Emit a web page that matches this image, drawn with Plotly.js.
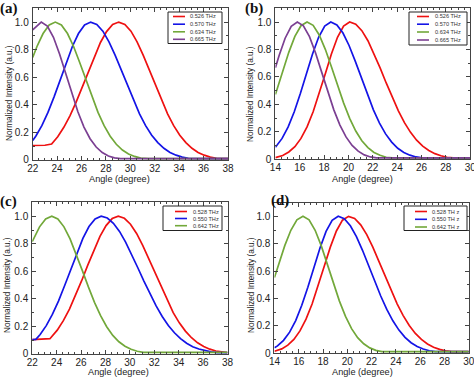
<!DOCTYPE html>
<html>
<head>
<meta charset="utf-8">
<script src="https://cdn.plot.ly/plotly-3.0.1.min.js"></script>
<style>html,body{margin:0;padding:0;background:#fff;}#chart{width:474px;height:377px;}</style>
</head>
<body>
<div id="chart"></div>
<script>
// ---------- Panel (a) ----------
const labelsA = ['0.526 THz', '0.570 THz', '0.634 THz', '0.665 THz'];
const angA_red = [22, 23.0, 23.55, 24.05, 24.55, 25.05, 25.55, 26.05, 26.55, 27.05, 27.55, 28.05, 28.55, 29.05, 29.55, 30.05, 30.55, 31.05, 31.55, 32.05, 32.55, 33.05, 33.55, 34.05, 34.55, 35.05, 35.55, 36.05, 36.55, 37.05, 38];
const intA_red = [0.105, 0.107, 0.116, 0.169, 0.237, 0.320, 0.418, 0.527, 0.641, 0.752, 0.852, 0.931, 0.982, 1, 0.983, 0.934, 0.857, 0.760, 0.651, 0.539, 0.432, 0.334, 0.249, 0.180, 0.126, 0.085, 0.055, 0.035, 0.021, 0.012, 0.01];
const angA_blue = [22, 22.25, 22.75, 23.25, 23.75, 24.25, 24.75, 25.25, 25.75, 26.25, 26.75, 27.25, 27.75, 28.25, 28.75, 29.25, 29.75, 30.25, 30.75, 31.25, 31.75, 32.25, 32.75, 33.25, 33.75, 34.25, 34.75, 35.5, 38];
const intA_blue = [0.141, 0.172, 0.249, 0.345, 0.458, 0.581, 0.707, 0.823, 0.917, 0.979, 1, 0.983, 0.934, 0.857, 0.760, 0.651, 0.539, 0.432, 0.334, 0.249, 0.180, 0.126, 0.085, 0.055, 0.035, 0.021, 0.012, 0.01, 0.01];
const angA_green = [22, 22.35, 22.85, 23.35, 23.85, 24.35, 24.85, 25.35, 25.85, 26.35, 26.85, 27.35, 27.85, 28.35, 28.85, 29.35, 29.85, 30.35, 30.85, 31.5, 38];
const intA_green = [0.743, 0.823, 0.917, 0.979, 1, 0.979, 0.917, 0.823, 0.707, 0.581, 0.458, 0.345, 0.249, 0.172, 0.114, 0.072, 0.044, 0.026, 0.014, 0.01, 0.01];
const angA_purple = [22, 22.7, 23.2, 23.7, 24.2, 24.7, 25.2, 25.7, 26.2, 26.7, 27.2, 27.7, 28.2, 28.7, 29.2, 38];
const intA_purple = [0.944, 1, 0.971, 0.890, 0.769, 0.627, 0.482, 0.350, 0.239, 0.154, 0.094, 0.054, 0.029, 0.015, 0.01, 0.01];

// ---------- Panel (b) ----------
const labelsB = ['0.526 THz', '0.570 THz', '0.634 THz', '0.665 THz'];
const angB_red = [14, 14.6, 15.1, 15.6, 16.1, 16.6, 17.1, 17.6, 18.1, 18.6, 19.1, 19.6, 20.1, 20.6, 21.1, 21.6, 22.1, 22.6, 23.1, 23.6, 24.1, 24.6, 25.1, 25.6, 26.1, 26.6, 27.1, 27.6, 28.1, 28.6, 30];
const intB_red = [0.012, 0.028, 0.053, 0.092, 0.152, 0.236, 0.346, 0.479, 0.624, 0.767, 0.889, 0.971, 1, 0.984, 0.937, 0.864, 0.771, 0.666, 0.556, 0.450, 0.353, 0.267, 0.196, 0.139, 0.096, 0.064, 0.041, 0.026, 0.015, 0.01, 0.01];
const angB_blue = [14, 14.55, 15.05, 15.55, 16.05, 16.55, 17.05, 17.55, 18.05, 18.55, 19.05, 19.55, 20.05, 20.55, 21.05, 21.55, 22.05, 22.55, 23.05, 23.55, 24.05, 24.55, 25.05, 25.55, 26.05, 30];
const intB_blue = [0.087, 0.152, 0.236, 0.346, 0.479, 0.624, 0.767, 0.889, 0.971, 1, 0.979, 0.920, 0.829, 0.717, 0.594, 0.472, 0.360, 0.264, 0.185, 0.125, 0.080, 0.050, 0.030, 0.017, 0.01, 0.01];
const angB_green = [14, 14.1, 14.6, 15.1, 15.6, 16.1, 16.6, 17.1, 17.6, 18.1, 18.6, 19.1, 19.6, 20.1, 20.6, 21.1, 21.6, 22.1, 22.6, 23.1, 23.6, 30];
const intB_green = [0.472, 0.499, 0.641, 0.779, 0.895, 0.973, 1, 0.976, 0.906, 0.801, 0.674, 0.540, 0.411, 0.298, 0.206, 0.135, 0.085, 0.050, 0.029, 0.015, 0.01, 0.01];
const angB_purple = [14, 14.3, 14.8, 15.3, 15.8, 16.3, 16.8, 17.3, 17.8, 18.3, 18.8, 19.3, 19.8, 20.3, 20.8, 21.3, 21.8, 22.3, 30];
const intB_purple = [0.667, 0.755, 0.882, 0.969, 1, 0.972, 0.893, 0.775, 0.635, 0.492, 0.360, 0.249, 0.163, 0.101, 0.059, 0.032, 0.017, 0.01, 0.01];

// ---------- Panel (c) ----------
const labelsC = ['0.528 THz', '0.550 THz', '0.642 THz'];
const angC_red = [22, 23.0, 23.45, 24.05, 24.55, 25.05, 25.55, 26.05, 26.55, 27.05, 27.55, 28.05, 28.55, 29.05, 29.55, 30.05, 30.55, 31.05, 31.55, 32.05, 32.55, 33.05, 33.55, 34.05, 34.55, 35.05, 35.55, 36.05, 36.55, 37.05, 37.55, 38];
const intC_red = [0.105, 0.106, 0.111, 0.173, 0.242, 0.326, 0.424, 0.532, 0.645, 0.755, 0.854, 0.932, 0.983, 1, 0.985, 0.942, 0.875, 0.788, 0.690, 0.586, 0.483, 0.386, 0.300, 0.226, 0.166, 0.118, 0.081, 0.054, 0.035, 0.022, 0.014, 0.01];
const angC_blue = [22, 22.3, 22.65, 23.15, 23.65, 24.15, 24.65, 25.15, 25.65, 26.15, 26.65, 27.15, 27.65, 28.15, 28.65, 29.15, 29.65, 30.15, 30.65, 31.15, 31.65, 32.15, 32.65, 33.15, 33.65, 34.15, 34.65, 35.15, 35.65, 36.15, 36.65, 37.2, 38];
const intC_blue = [0.105, 0.106, 0.142, 0.206, 0.287, 0.384, 0.495, 0.614, 0.732, 0.839, 0.925, 0.981, 1, 0.987, 0.949, 0.890, 0.812, 0.722, 0.626, 0.529, 0.435, 0.349, 0.272, 0.207, 0.154, 0.111, 0.078, 0.053, 0.036, 0.023, 0.015, 0.01, 0.01];
const angC_green = [22, 22.1, 22.6, 23.1, 23.6, 24.1, 24.6, 25.1, 25.6, 26.1, 26.6, 27.1, 27.6, 28.1, 28.6, 29.1, 29.6, 30.1, 30.6, 31.1, 38];
const intC_green = [0.815, 0.835, 0.923, 0.980, 1, 0.980, 0.923, 0.835, 0.726, 0.607, 0.487, 0.375, 0.278, 0.198, 0.135, 0.089, 0.056, 0.034, 0.020, 0.012, 0.012];

// ---------- Panel (d) ----------
const labelsD = ['0.528 TH z', '0.550 TH z', '0.642 TH z'];
const angD_red = [14, 14.6, 15.1, 15.6, 16.1, 16.6, 17.1, 17.6, 18.1, 18.6, 19.1, 19.6, 20.1, 20.6, 21.1, 21.6, 22.1, 22.6, 23.1, 23.6, 24.1, 24.6, 25.1, 25.6, 26.1, 26.6, 27.1, 27.6, 28.1, 28.6, 30];
const intD_red = [0.015, 0.032, 0.059, 0.101, 0.163, 0.249, 0.360, 0.492, 0.635, 0.775, 0.893, 0.972, 1, 0.984, 0.938, 0.866, 0.775, 0.671, 0.563, 0.458, 0.361, 0.275, 0.203, 0.145, 0.101, 0.068, 0.044, 0.028, 0.017, 0.012, 0.012];
const angD_blue = [14, 14.25, 14.75, 15.25, 15.75, 16.25, 16.75, 17.25, 17.75, 18.25, 18.75, 19.25, 19.75, 20.25, 20.75, 21.25, 21.75, 22.25, 22.75, 23.25, 23.75, 24.25, 24.75, 25.25, 25.75, 26.25, 26.75, 27.25, 30];
const intD_blue = [0.040, 0.054, 0.094, 0.154, 0.239, 0.350, 0.482, 0.627, 0.769, 0.890, 0.971, 1, 0.982, 0.931, 0.852, 0.752, 0.641, 0.527, 0.418, 0.320, 0.237, 0.169, 0.116, 0.077, 0.049, 0.031, 0.018, 0.012, 0.012];
const angD_green = [14, 14.35, 14.85, 15.35, 15.85, 16.35, 16.85, 17.35, 17.85, 18.35, 18.85, 19.35, 19.85, 20.35, 20.85, 21.35, 21.85, 22.35, 22.85, 30];
const intD_green = [0.553, 0.651, 0.786, 0.898, 0.974, 1, 0.974, 0.898, 0.786, 0.651, 0.512, 0.381, 0.269, 0.180, 0.114, 0.069, 0.039, 0.021, 0.012, 0.012];

const xTicksAC = [22, 24, 26, 28, 30, 32, 34, 36, 38];
const xTicksBD = [14, 16, 18, 20, 22, 24, 26, 28, 30];
const yTickVals = [0, 0.2, 0.4, 0.6, 0.8, 1.0];
const yTickText = ['0', '0.2', '0.4', '0.6', '0.8', '1.0'];
const xTitle = 'Angle (degree)';
const yTitle = 'Normalized Intensity (a.u.)';

const RED = '#ee1111', BLUE = '#1414e6', GREEN = '#72a83a', PURPLE = '#7b3f92';
const COLORS4 = [RED, BLUE, GREEN, PURPLE];

function tr(x, y, name, color, xa, ya) {
  return {x: x, y: y, name: name, type: 'scatter', mode: 'lines', showlegend: false,
    line: {color: color, width: 1.7}, xaxis: xa, yaxis: ya};
}

const data = [
  tr(angA_red, intA_red, labelsA[0], RED, 'x', 'y'),
  tr(angA_blue, intA_blue, labelsA[1], BLUE, 'x', 'y'),
  tr(angA_green, intA_green, labelsA[2], GREEN, 'x', 'y'),
  tr(angA_purple, intA_purple, labelsA[3], PURPLE, 'x', 'y'),
  tr(angB_red, intB_red, labelsB[0], RED, 'x2', 'y2'),
  tr(angB_blue, intB_blue, labelsB[1], BLUE, 'x2', 'y2'),
  tr(angB_green, intB_green, labelsB[2], GREEN, 'x2', 'y2'),
  tr(angB_purple, intB_purple, labelsB[3], PURPLE, 'x2', 'y2'),
  tr(angC_red, intC_red, labelsC[0], RED, 'x3', 'y3'),
  tr(angC_blue, intC_blue, labelsC[1], BLUE, 'x3', 'y3'),
  tr(angC_green, intC_green, labelsC[2], GREEN, 'x3', 'y3'),
  tr(angD_red, intD_red, labelsD[0], RED, 'x4', 'y4'),
  tr(angD_blue, intD_blue, labelsD[1], BLUE, 'x4', 'y4'),
  tr(angD_green, intD_green, labelsD[2], GREEN, 'x4', 'y4')
];

const W = 474, H = 377;
const px = v => v / W;
const py = v => 1 - v / H;
const FONT = 'Liberation Sans, Arial, sans-serif';

function xax(dom, rng, ticks, anchor) {
  return {domain: dom, range: rng, anchor: anchor, tickvals: ticks,
    ticks: 'inside', ticklen: 4, tickwidth: 1, tickcolor: '#444',
    minor: {dtick: 0.5, ticks: 'inside', ticklen: 2, tickcolor: '#444'},
    showline: true, linecolor: '#444', linewidth: 1, mirror: 'allticks',
    showgrid: false, zeroline: false, ticklabeloverflow: 'allow', ticklabelstandoff: -1,
    tickfont: {family: FONT, size: 10, color: '#222'}};
}
function yax(dom, anchor) {
  return {domain: dom, range: [0, 1.1], anchor: anchor, tickvals: yTickVals, ticktext: yTickText,
    ticks: 'inside', ticklen: 4, tickwidth: 1, tickcolor: '#444',
    minor: {dtick: 0.1, ticks: 'inside', ticklen: 2, tickcolor: '#444'},
    showline: true, linecolor: '#444', linewidth: 1, mirror: 'allticks',
    showgrid: false, zeroline: false, ticklabeloverflow: 'allow', ticklabelstandoff: 1,
    tickfont: {family: FONT, size: 10, color: '#222'}};
}

const annotations = [];
const shapes = [];
function txt(t, x, y, opts) {
  annotations.push(Object.assign({text: t, xref: 'paper', yref: 'paper', x: px(x), y: py(y),
    xanchor: 'center', yanchor: 'middle', showarrow: false,
    font: {family: FONT, size: 9.5, color: '#222'}}, opts || {}));
}
// axis titles
[[119, 179], [362, 179], [118, 372], [362, 372]].forEach(p => txt(xTitle, p[0], p[1],
  {font: {family: FONT, size: 9.2, color: '#222'}}));
[[9, 93], [251, 94], [7, 285], [251, 285]].forEach(p => txt(yTitle, p[0], p[1],
  {textangle: -90, font: {family: FONT, size: 8.2, color: '#222'}}));
// panel labels
const serif = {family: 'Liberation Serif, Times New Roman, serif', size: 15, color: '#111'};
txt('<b>(a)</b>', -2, 8, {xanchor: 'left', font: serif});
txt('<b>(b)</b>', 243, 8, {xanchor: 'left', font: serif});
txt('<b>(c)</b>', -2, 201, {xanchor: 'left', font: serif});
txt('<b>(d)</b>', 269, 200, {xanchor: 'left', font: serif});

// custom legends (box, line samples, labels)
function legendBox(box, rows, lineX, textX, labels) {
  shapes.push({type: 'rect', xref: 'paper', yref: 'paper', x0: px(box[0]), x1: px(box[1]),
    y0: py(box[2]), y1: py(box[3]), line: {color: '#222', width: 1}, fillcolor: '#fff', layer: 'above'});
  labels.forEach((lab, i) => {
    shapes.push({type: 'line', xref: 'paper', yref: 'paper', x0: px(lineX[0]), x1: px(lineX[1]),
      y0: py(rows[i]), y1: py(rows[i]), line: {color: COLORS4[i], width: 1.6}, layer: 'above'});
    txt(lab, textX, rows[i], {xanchor: 'left', font: {family: FONT, size: 5.6, color: '#333'}});
  });
}
legendBox([168, 222, 12, 43.5], [16.5, 24.2, 31.8, 39.3], [173, 185], 188, labelsA);
legendBox([409, 467, 12, 45], [16.5, 24.2, 32, 40], [417, 429], 433, labelsB);
legendBox([163, 222, 206, 230.5], [211.5, 218.5, 225.7], [175, 187], 191, labelsC);
legendBox([404, 467, 206, 230.5], [211.5, 219.3, 227], [415, 427], 430, labelsD);

const layout = {
  width: W, height: H, margin: {l: 0, r: 0, t: 0, b: 0},
  paper_bgcolor: '#fff', plot_bgcolor: '#fff', showlegend: false,
  xaxis: xax([0.069, 0.481], [22, 38], xTicksAC, 'y'),
  yaxis: yax([0.5756, 0.978], 'x'),
  xaxis2: xax([0.581, 0.992], [14, 30], xTicksBD, 'y2'),
  yaxis2: yax([0.5775, 0.978], 'x2'),
  xaxis3: xax([0.068, 0.480], [22, 38], xTicksAC, 'y3'),
  yaxis3: yax([0.061, 0.463], 'x3'),
  xaxis4: xax([0.579, 0.989], [14, 30], xTicksBD, 'y4'),
  yaxis4: yax([0.063, 0.4625], 'x4'),
  annotations: annotations,
  shapes: shapes
};

Plotly.newPlot('chart', data, layout, {displayModeBar: false, staticPlot: true});
</script>
</body>
</html>
